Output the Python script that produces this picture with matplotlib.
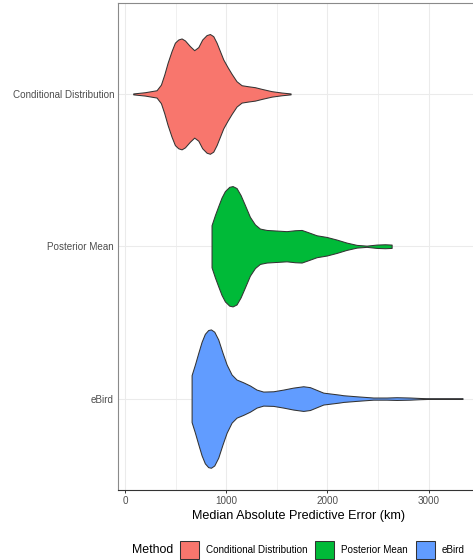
import matplotlib
matplotlib.use("Agg")
import matplotlib.pyplot as plt
from matplotlib.patches import Rectangle
import numpy as np

plt.rcParams['font.family'] = ['Liberation Sans', 'DejaVu Sans']

# categories (bottom to top on the y axis) and fill colours
methods = ["eBird", "Posterior Mean", "Conditional Distribution"]
legend_order = ["Conditional Distribution", "Posterior Mean", "eBird"]
colors = {"Conditional Distribution": "#F8766D",
          "Posterior Mean": "#00BA38",
          "eBird": "#619CFF"}

# violin outlines: error value (km) and half-width (category units)
cond_err = [82, 198, 313, 356, 389, 422, 461, 494, 527, 560, 593, 642, 685, 725,
            764, 807, 840, 873, 906, 939, 972, 1015, 1054, 1103, 1153, 1219, 1285,
            1351, 1449, 1548, 1637]
cond_hw = [0.003, 0.011, 0.024, 0.061, 0.127, 0.204, 0.281, 0.336, 0.357, 0.364,
           0.351, 0.314, 0.287, 0.307, 0.357, 0.386, 0.393, 0.379, 0.336, 0.281,
           0.226, 0.175, 0.132, 0.083, 0.057, 0.050, 0.044, 0.033, 0.018, 0.009,
           0.003]

post_err = [856, 889, 922, 955, 988, 1031, 1064, 1103, 1143, 1186, 1235, 1285,
            1334, 1400, 1499, 1597, 1680, 1746, 1811, 1894, 1993, 2091, 2190,
            2289, 2388, 2487, 2569, 2635]
post_hw = [0.138, 0.204, 0.263, 0.320, 0.362, 0.390, 0.395, 0.382, 0.336, 0.270,
           0.193, 0.143, 0.116, 0.107, 0.103, 0.099, 0.105, 0.107, 0.092, 0.072,
           0.061, 0.044, 0.024, 0.009, 0.004, 0.011, 0.013, 0.011]

ebird_err = [659, 692, 725, 758, 790, 823, 850, 883, 922, 965, 1005, 1054, 1103,
             1169, 1235, 1301, 1367, 1466, 1564, 1663, 1762, 1828, 1894, 1960,
             2058, 2118, 2157, 2289, 2454, 2585, 2684, 2816, 2915, 3014, 3336]
ebird_hw = [0.154, 0.224, 0.300, 0.373, 0.425, 0.450, 0.454, 0.439, 0.388, 0.300,
            0.224, 0.158, 0.125, 0.107, 0.086, 0.059, 0.046, 0.048, 0.059, 0.072,
            0.081, 0.075, 0.057, 0.039, 0.031, 0.026, 0.022, 0.015, 0.007, 0.007,
            0.009, 0.007, 0.004, 0.002, 0.002]

profiles = {"Conditional Distribution": (cond_err, cond_hw),
            "Posterior Mean": (post_err, post_hw),
            "eBird": (ebird_err, ebird_hw)}

x_ticks = [0, 1000, 2000, 3000]
x_label = "Median Absolute Predictive Error (km)"
legend_title = "Method"

W, H = 473, 560
fig = plt.figure(figsize=(W / 100, H / 100), dpi=100)
ax = fig.add_axes([117.5 / W, 70 / H, 363 / W, 487.5 / H])


def px(x, y):
    return x / W, 1 - y / H


for i, m in enumerate(methods):
    err, hw = profiles[m]
    err = np.array(err)
    hw = np.array(hw)
    pos = i + 1
    ax.fill_between(err, pos - hw, pos + hw, facecolor=colors[m],
                    edgecolor="#333333", linewidth=0.75, zorder=3)

ax.set_xlim(-73, 3513)
ax.set_ylim(0.4, 3.6)
ax.set_xticks(x_ticks)
ax.set_xticks([500, 1500, 2500, 3500], minor=True)
ax.set_yticks(range(1, len(methods) + 1))
ax.set_yticklabels(methods)
ax.grid(True, which="major", color="#EBEBEB", linewidth=0.75, zorder=0)
ax.grid(True, which="minor", axis="x", color="#EEEEEE", linewidth=0.6, zorder=0)
ax.set_axisbelow(True)

ax.tick_params(axis="x", which="major", length=2.2, width=0.7, color="#333333",
               labelsize=7.1, labelcolor="#4D4D4D", pad=2.2)
ax.tick_params(axis="x", which="minor", length=0)
ax.tick_params(axis="y", length=0, labelsize=7.1, labelcolor="#4D4D4D", pad=2.5)

for side in ["left", "top", "right"]:
    ax.spines[side].set_color("#8A8A8A")
    ax.spines[side].set_linewidth(0.8)
ax.spines["bottom"].set_color("#333333")
ax.spines["bottom"].set_linewidth(0.8)

ax.set_xlabel(x_label, fontsize=9.1, color="black", labelpad=3)

# legend drawn along the bottom
fig.text(*px(132, 550), legend_title, fontsize=8.9, ha="left", va="center")
key_x = [180, 315, 416]
for kx, m in zip(key_x, legend_order):
    x0, y0 = px(kx, 559)
    fig.add_artist(Rectangle((x0, y0), 19 / W, 18 / H, transform=fig.transFigure,
                             facecolor=colors[m], edgecolor="#333333", linewidth=0.75))
    fig.text(*px(kx + 26, 550), m, fontsize=7.1, ha="left", va="center")

fig.savefig("out.png", dpi=100)
